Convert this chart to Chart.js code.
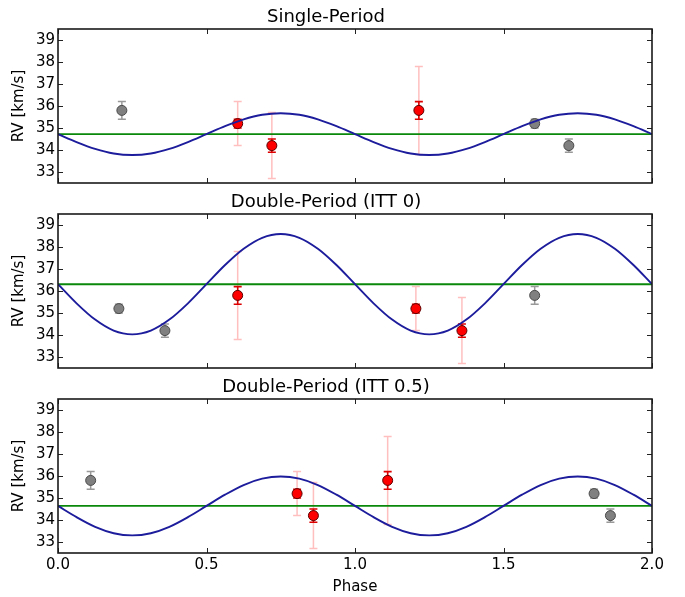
<!DOCTYPE html>
<html>
<head>
<meta charset="utf-8">
<script src="https://cdn.jsdelivr.net/npm/chart.js@4/dist/chart.umd.min.js"></script>
<style>
  html, body { margin: 0; padding: 0; background: #fff; }
  #wrap { position: relative; width: 685px; height: 597px; }
  #wrap canvas { position: absolute; left: 0; top: 0; pointer-events: none; }
</style>
</head>
<body>
<div id="wrap">
  <canvas id="c1" width="685" height="597"></canvas>
  <canvas id="c2" width="685" height="597"></canvas>
  <canvas id="c3" width="685" height="597"></canvas>
</div>
<script>
// ---------- data ----------
const panelTitles = ['Single-Period', 'Double-Period (ITT 0)', 'Double-Period (ITT 0.5)'];
const xTicks = [0, 0.5, 1, 1.5, 2];
const yTicks = [33, 34, 35, 36, 37, 38, 39];
const xLabel = 'Phase';
const yLabel = 'RV [km/s]';

const curvePhase = [0, 0.0625, 0.125, 0.1875, 0.25, 0.3125, 0.375, 0.4375, 0.5, 0.5625, 0.625, 0.6875, 0.75, 0.8125, 0.875, 0.9375,
  1, 1.0625, 1.125, 1.1875, 1.25, 1.3125, 1.375, 1.4375, 1.5, 1.5625, 1.625, 1.6875, 1.75, 1.8125, 1.875, 1.9375, 2];
const curveSingle = [34.72, 34.36, 34.05, 33.84, 33.77, 33.84, 34.05, 34.36, 34.72, 35.08, 35.39, 35.60, 35.67, 35.60, 35.39, 35.08,
  34.72, 34.36, 34.05, 33.84, 33.77, 33.84, 34.05, 34.36, 34.72, 35.08, 35.39, 35.60, 35.67, 35.60, 35.39, 35.08, 34.72];
const curveItt0 = [36.31, 35.44, 34.70, 34.20, 34.03, 34.20, 34.70, 35.44, 36.31, 37.18, 37.92, 38.42, 38.59, 38.42, 37.92, 37.18,
  36.31, 35.44, 34.70, 34.20, 34.03, 34.20, 34.70, 35.44, 36.31, 37.18, 37.92, 38.42, 38.59, 38.42, 37.92, 37.18, 36.31];
const curveItt05 = [34.64, 34.13, 33.69, 33.40, 33.30, 33.40, 33.69, 34.13, 34.64, 35.15, 35.59, 35.88, 35.98, 35.88, 35.59, 35.15,
  34.64, 34.13, 33.69, 33.40, 33.30, 33.40, 33.69, 34.13, 34.64, 35.15, 35.59, 35.88, 35.98, 35.88, 35.59, 35.15, 34.64];
const meanLevel = [34.72, 36.31, 34.64];

// observed points (red) and repeated copies (gray)
const redPhaseSingle = [0.605, 0.72, 1.215];
const redRVSingle = [35.2, 34.2, 35.8];
const redErrSingle = [0.2, 0.3, 0.4];
const redSysSingle = [1.0, 1.5, 2.0];
const grayPhaseSingle = [0.215, 1.605, 1.72];
const grayRVSingle = [35.8, 35.2, 34.2];
const grayErrSingle = [0.4, 0.2, 0.3];

const redPhaseItt0 = [0.605, 1.205, 1.36];
const redRVItt0 = [35.8, 35.2, 34.2];
const redErrItt0 = [0.4, 0.2, 0.3];
const redSysItt0 = [2.0, 1.0, 1.5];
const grayPhaseItt0 = [0.205, 0.36, 1.605];
const grayRVItt0 = [35.2, 34.2, 35.8];
const grayErrItt0 = [0.2, 0.3, 0.4];

const redPhaseItt05 = [0.805, 0.86, 1.11];
const redRVItt05 = [35.2, 34.2, 35.8];
const redErrItt05 = [0.2, 0.3, 0.4];
const redSysItt05 = [1.0, 1.5, 2.0];
const grayPhaseItt05 = [0.11, 1.805, 1.86];
const grayRVItt05 = [35.8, 35.2, 34.2];
const grayErrItt05 = [0.4, 0.2, 0.3];

// ---------- chart setup ----------
Chart.defaults.font.family = "'DejaVu Sans', sans-serif";
Chart.defaults.color = '#000';

const pts = (xs, ys) => xs.map((x, i) => ({ x: x, y: ys[i] }));

const errorBarPlugin = {
  id: 'errorBars',
  beforeDatasetDraw(chart, args) {
    const ds = chart.data.datasets[args.index];
    if (!ds.errBars) return;
    const ctx = chart.ctx, xs = chart.scales.x, ys = chart.scales.y;
    const a = chart.chartArea;
    ctx.save();
    ctx.beginPath();
    ctx.rect(a.left, a.top, a.right - a.left, a.bottom - a.top);
    ctx.clip();
    ds.errBars.forEach(bar => {
      ctx.strokeStyle = bar.color;
      ctx.lineWidth = bar.width;
      ds.data.forEach((p, i) => {
        const e = bar.err[i];
        const px = xs.getPixelForValue(p.x);
        const y0 = ys.getPixelForValue(p.y - e);
        const y1 = ys.getPixelForValue(p.y + e);
        const cap = 4;
        ctx.beginPath();
        ctx.moveTo(px, y0); ctx.lineTo(px, y1);
        ctx.moveTo(px - cap, y0); ctx.lineTo(px + cap, y0);
        ctx.moveTo(px - cap, y1); ctx.lineTo(px + cap, y1);
        ctx.stroke();
      });
    });
    ctx.restore();
  }
};

const framePlugin = {
  id: 'frame',
  afterDraw(chart) {
    const ctx = chart.ctx, a = chart.chartArea;
    const xs = chart.scales.x, ys = chart.scales.y;
    ctx.save();
    ctx.strokeStyle = '#222';
    ctx.lineWidth = 1;
    const L = 5;
    ctx.beginPath();
    xTicks.forEach(v => {
      const px = Math.round(xs.getPixelForValue(v)) + 0.5;
      ctx.moveTo(px, a.bottom); ctx.lineTo(px, a.bottom - L);
      ctx.moveTo(px, a.top); ctx.lineTo(px, a.top + L);
    });
    yTicks.forEach(v => {
      const py = Math.round(ys.getPixelForValue(v)) + 0.5;
      ctx.moveTo(a.left, py); ctx.lineTo(a.left + L, py);
      ctx.moveTo(a.right, py); ctx.lineTo(a.right - L, py);
    });
    ctx.stroke();
    ctx.lineWidth = 1.6;
    ctx.strokeStyle = '#1a1a1a';
    ctx.strokeRect(a.left, a.top, a.right - a.left, a.bottom - a.top);
    ctx.restore();
  }
};

function makePanel(canvasId, title, curve, level, redX, redY, redErr, redSys, grayX, grayY, grayErr, padTop, padBottom, showX) {
  return new Chart(document.getElementById(canvasId), {
    type: 'scatter',
    data: {
      datasets: [
        {
          label: 'model', data: pts(curvePhase, curve), showLine: true,
          borderColor: '#1c1c9c', borderWidth: 1.9, pointRadius: 0,
          cubicInterpolationMode: 'monotone', fill: false
        },
        {
          label: 'mean', data: pts([0, 2], [level, level]), showLine: true,
          borderColor: '#0a880a', borderWidth: 1.9, pointRadius: 0, fill: false
        },
        {
          label: 'repeated', data: pts(grayX, grayY),
          backgroundColor: '#808080', borderColor: '#4a4a4a', borderWidth: 1, pointRadius: 5,
          errBars: [{ err: grayErr, color: 'rgba(110,110,110,0.7)', width: 1.5 }]
        },
        {
          label: 'observed', data: pts(redX, redY),
          backgroundColor: '#ff0000', borderColor: '#5a0000', borderWidth: 1, pointRadius: 5,
          errBars: [
            { err: redSys, color: 'rgba(255,0,0,0.25)', width: 1.5 },
            { err: redErr, color: '#dd0000', width: 1.6 }
          ]
        }
      ]
    },
    options: {
      responsive: false,
      animation: false,
      events: [],
      layout: { padding: { top: padTop, bottom: padBottom, left: 0, right: 33 } },
      plugins: {
        legend: { display: false },
        tooltip: { enabled: false },
        title: {
          display: true, text: title, color: '#000',
          font: { size: 18, weight: 'normal' },
          padding: { top: 6.5, bottom: 0.9 }
        }
      },
      scales: {
        x: {
          type: 'linear', min: 0, max: 2, display: showX,
          afterBuildTicks: s => { s.ticks = xTicks.map(v => ({ value: v })); },
          afterFit: s => { if (showX) s.height = 44; },
          grid: { display: false, drawTicks: false },
          border: { display: false },
          ticks: { padding: 3, font: { size: 15 }, color: '#000', maxRotation: 0, callback: v => Number(v).toFixed(1) },
          title: { display: true, text: xLabel, font: { size: 15 }, color: '#000', padding: { top: 0, bottom: 1 } }
        },
        y: {
          type: 'linear', min: 32.5, max: 39.5,
          afterBuildTicks: s => { s.ticks = yTicks.map(v => ({ value: v })); },
          afterFit: s => { s.width = 58; },
          grid: { display: false, drawTicks: false },
          border: { display: false },
          ticks: { padding: 3, font: { size: 15 }, color: '#000', callback: v => String(v) },
          title: { display: true, text: yLabel, font: { size: 15 }, color: '#000', padding: { top: 10, bottom: 0 } }
        }
      }
    },
    plugins: [errorBarPlugin, framePlugin]
  });
}

makePanel('c1', panelTitles[0], curveSingle, meanLevel[0], redPhaseSingle, redRVSingle, redErrSingle, redSysSingle,
  grayPhaseSingle, grayRVSingle, grayErrSingle, 0, 414, false);
makePanel('c2', panelTitles[1], curveItt0, meanLevel[1], redPhaseItt0, redRVItt0, redErrItt0, redSysItt0,
  grayPhaseItt0, grayRVItt0, grayErrItt0, 185, 229, false);
makePanel('c3', panelTitles[2], curveItt05, meanLevel[2], redPhaseItt05, redRVItt05, redErrItt05, redSysItt05,
  grayPhaseItt05, grayRVItt05, grayErrItt05, 370, 0, true);
</script>
</body>
</html>
